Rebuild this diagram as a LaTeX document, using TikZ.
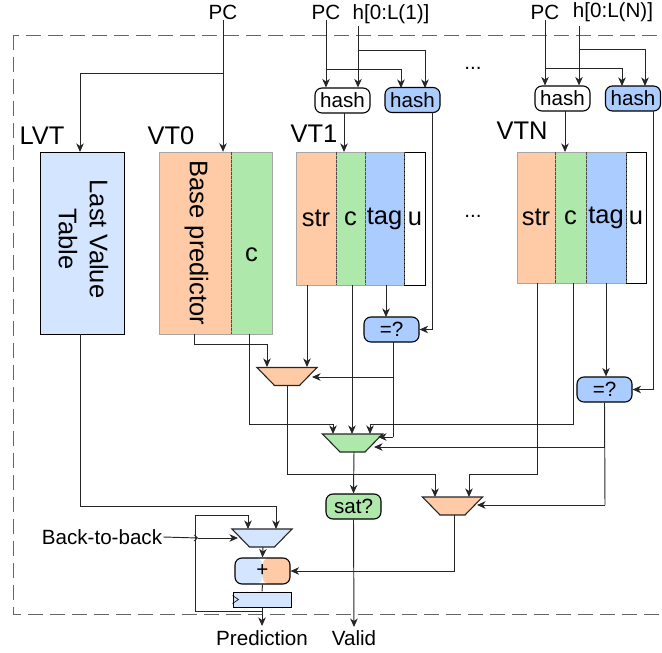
\documentclass[tikz,border=0pt]{standalone}
\usepackage{fontspec}
\setmainfont{Liberation Sans}
\usetikzlibrary{arrows.meta,calc,shapes.geometric}
\definecolor{strorange}{HTML}{FFCBA6}
\definecolor{cgreen}{HTML}{AEE8AA}
\definecolor{tagblue}{HTML}{AACCFF}
\definecolor{lvtblue}{HTML}{D4E5FF}
\tikzstyle{arrow} = [line width=0.95pt,-{Stealth[inset=2.5pt,length=8.5pt,width=7.5pt]},draw=black!85]
\tikzstyle{wire} = [line width=0.95pt,draw=black!85]
\tikzstyle{lbl} = [inner sep=1pt,font=\fontsize{20.6}{24}\selectfont]
\tikzstyle{title} = [inner sep=0pt,font=\fontsize{25.5}{31}\selectfont]
\tikzstyle{column} = [draw=black!35,minimum height=133pt,inner sep=0pt,font=\fontsize{25.5}{29}\selectfont]
\tikzstyle{block} = [draw=black,line width=1.1pt,rounded corners=7pt,minimum width=55pt,minimum height=25pt,inner sep=0pt,font=\fontsize{20.6}{24}\selectfont]
\tikzstyle{muxbox} = [trapezium,shape border rotate=180,trapezium stretches=true,trapezium angle=55,minimum width=60pt,minimum height=18pt,inner sep=1pt,draw=black!85,line width=1.1pt]
\tikzstyle{divider} = [dashed,dash pattern=on 3pt off 1pt,draw=black!70,line width=0.8pt]
\begin{document}
\begin{tikzpicture}[x=1pt,y=-1pt]
\useasboundingbox (0,0) rectangle (662,653);
\begin{scope}
\clip (0,0) rectangle (662,653);
\draw[dashed,dash pattern=on 15pt off 7pt,draw=black!60,line width=0.9pt] (13,35) rectangle (680,614);
\end{scope}
%inputs
\node[lbl] (pca) at (223,12) {PC};
\node[lbl] (pcb) at (326,12) {PC};
\node[lbl] (hone) at (391,14) {h[0:L(1)]};
\node[lbl] (pcc) at (545,12) {PC};
\node[lbl] (hn) at (613,12) {h[0:L(N)]};
\node[lbl] (dotsa) at (473,68) {...};
\node[lbl] (dotsb) at (473,216) {...};
%tables
\node[title] (lvtname) at (42,136) {LVT};
\node[title] (vtzeroname) at (171,136) {VT0};
\node[title] (vtonename) at (314,134) {VT1};
\node[title] (vtnname) at (522,131) {VTN};
\node[column,draw=black,fill=lvtblue,minimum width=84pt,minimum height=182pt] (lvt) at (82,243) {};
\node[title,rotate=-90,align=center] (lvttext) at ($(lvt)+(1.5,-4)$) {Last Value\\Table};
\node[column,fill=strorange,minimum width=72pt,minimum height=182pt] (vtzerobase) at (195,243) {};
\node[title,rotate=-90] (basetext) at ($(vtzerobase)+(1.5,0)$) {Base predictor};
\node[column,fill=cgreen,minimum width=41pt,minimum height=182pt] (vtzeroc) at (251.5,243) {};
\node[title,yshift=-12pt] (ctext) at (vtzeroc) {c};
\node[column,fill=strorange,minimum width=40pt] (vtonestr) at (316,218.5) {str};
\node[column,fill=cgreen,minimum width=29pt] (vtonec) at (350.5,218.5) {c};
\node[column,fill=tagblue,minimum width=39pt] (vtonetag) at (384.5,218.5) {tag};
\node[column,draw=black,fill=white,minimum width=21pt] (vtoneu) at (415,218.5) {u};
\node[column,fill=strorange,minimum width=38pt,minimum height=131pt] (vtnstr) at (536,217.5) {str};
\node[column,fill=cgreen,minimum width=31pt,minimum height=131pt] (vtnc) at (570.5,217.5) {c};
\node[column,fill=tagblue,minimum width=40pt,minimum height=131pt] (vtntag) at (606,217.5) {tag};
\node[column,draw=black,fill=white,minimum width=20pt,minimum height=131pt] (vtnu) at (636,217.5) {u};
\draw[divider] (vtzerobase.north east)--(vtzerobase.south east);
\draw[divider] (vtonestr.north east)--(vtonestr.south east);
\draw[divider] (vtonec.north east)--(vtonec.south east);
\draw[divider] (vtonetag.north east)--(vtonetag.south east);
\draw[divider] (vtnstr.north east)--(vtnstr.south east);
\draw[divider] (vtnc.north east)--(vtnc.south east);
\draw[divider] (vtntag.north east)--(vtntag.south east);
%hash and compare
\node[block] (hashone) at (342.5,100.5) {hash};
\node[block,fill=tagblue] (taghashone) at (412.5,100) {hash};
\node[block] (hashn) at (562.5,98.5) {hash};
\node[block,fill=tagblue] (taghashn) at (633,98.5) {hash};
\node[block,fill=tagblue] (cmpone) at (391.5,329.5) {=?};
\node[block,fill=tagblue] (cmpn) at (604.5,389.5) {=?};
\node[block,fill=cgreen] (sat) at (353.5,506.5) {sat?};
%muxes
\node[muxbox,fill=strorange] (muxa) at (287,376.5) {};
\node[muxbox,fill=cgreen] (muxb) at (352.5,443) {};
\node[muxbox,fill=strorange] (muxc) at (452.5,506) {};
\node[muxbox,fill=lvtblue] (muxd) at (262,538) {};
%adder and register
\node[block,minimum height=26pt,path picture={
\fill[lvtblue] (path picture bounding box.north west) rectangle (path picture bounding box.south);
\fill[strorange] (path picture bounding box.north) rectangle (path picture bounding box.south east);
}] (adder) at (262.5,571) {+};
\node[draw=black,line width=1pt,fill=lvtblue,minimum width=58pt,minimum height=15pt,inner sep=0pt] (reg) at (262,599.5) {};
\draw[line width=0.6pt] ($(reg.west)+(0,-4)$)--($(reg.west)+(6,0)$)--($(reg.west)+(0,4)$);
%outputs
\node[lbl] (pred) at (262,638) {Prediction};
\node[lbl] (valid) at (354,638) {Valid};
\node[lbl] (btb) at (102,537) {Back-to-back};
%junctions and ports
\coordinate (pcasplit) at (223,73);
\coordinate (lvtin) at (80,152);
\coordinate (pcbsplit) at (326,69);
\coordinate (honetap) at (358,26);
\coordinate (honesplit) at (358,50);
\coordinate (tagoneina) at (401,88);
\coordinate (tagoneinb) at (425,88);
\coordinate (pccsplit) at (546,68);
\coordinate (hntap) at (579,26);
\coordinate (hnsplit) at (579,49);
\coordinate (tagnina) at (622,86);
\coordinate (tagninb) at (645,86);
\coordinate (hashoneout) at (344,113);
\coordinate (hashonetable) at (344,152);
\coordinate (hashnout) at (565,111);
\coordinate (hashntable) at (565,152);
\coordinate (taghashoneout) at (432,112);
\coordinate (taghashnout) at (653,111);
\coordinate (tagoneout) at (386,285);
\coordinate (cmponein) at (386,317);
\coordinate (baseout) at (194,334);
\coordinate (baseturn) at (194,344);
\coordinate (muxaina) at (267,367);
\coordinate (muxainb) at (307,367);
\coordinate (muxainc) at (312,377);
\coordinate (muxaout) at (287,386);
\coordinate (vtzerocout) at (249,334);
\coordinate (vtzerocturn) at (249,424);
\coordinate (muxbina) at (333,434);
\coordinate (muxbinb) at (352,434);
\coordinate (muxbinc) at (370,434);
\coordinate (muxbind) at (378,437);
\coordinate (muxbine) at (374,447);
\coordinate (muxbout) at (354,452);
\coordinate (vtonestrout) at (307,285);
\coordinate (vtonecout) at (352,285);
\coordinate (vtncout) at (573,283);
\coordinate (vtncturn) at (573,424);
\coordinate (vtnstrout) at (537,283);
\coordinate (vtnstrturn) at (537,474);
\coordinate (cmponeout) at (393,342);
\coordinate (cmponeturn) at (393,437);
\coordinate (cmponesplit) at (393,377);
\coordinate (cmpnsplit) at (605,447);
\coordinate (cmpnturn) at (605,505);
\coordinate (muxaturn) at (287,474);
\coordinate (muxcina) at (435,497);
\coordinate (muxcinb) at (469,497);
\coordinate (muxcinc) at (477,505);
\coordinate (muxcout) at (454,515);
\coordinate (validin) at (354,627);
\coordinate (lvtout) at (80,334);
\coordinate (lvtturn) at (80,506);
\coordinate (muxdina) at (248,529);
\coordinate (muxdinb) at (276,529);
\coordinate (muxdinc) at (238,538);
\coordinate (muxdout) at (263,547);
\coordinate (fbksplit) at (262,611);
\coordinate (fbkturn) at (195,515);
\coordinate (clk) at (198,538);
\coordinate (predin) at (262,626);
%top wiring
\draw[arrow] (pca.south)--(pca.south |- vtzerobase.north);
\draw[arrow] (pcasplit)-|(lvtin);
\draw[arrow] (pcb.south)--(pcb.south |- hashone.north);
\draw[arrow] (pcbsplit)-|(tagoneina);
\draw[arrow] (honetap)--(honetap |- hashone.north);
\draw[arrow] (honesplit)-|(tagoneinb);
\draw[arrow] (pcc.south)--(pcc.south |- hashn.north);
\draw[arrow] (pccsplit)-|(tagnina);
\draw[arrow] (hntap)--(hntap |- hashn.north);
\draw[arrow] (hnsplit)-|(tagninb);
\draw[arrow] (hashoneout)--(hashonetable);
\draw[arrow] (hashnout)--(hashntable);
\draw[arrow] (taghashoneout)|-(cmpone.east);
\draw[arrow] (taghashnout)|-(cmpn.east);
\draw[arrow] (tagoneout)--(cmponein);
\draw[arrow] (vtntag.south)--(vtntag.south |- cmpn.north);
%mux wiring
\draw[arrow] (baseout)--(baseturn)-|(muxaina);
\draw[arrow] (vtzerocout)--(vtzerocturn)-|(muxbina);
\draw[arrow] (vtonestrout)--(muxainb);
\draw[arrow] (vtonecout)--(muxbinb);
\draw[arrow] (vtncout)--(vtncturn)-|(muxbinc);
\draw[wire] (cmponeout)--(cmponeturn);
\draw[arrow] (cmponesplit)--(muxainc);
\draw[arrow] (cmponeturn)--(muxbind);
\draw[wire] (cmpn.south)--(cmpnturn);
\draw[arrow] (cmpnsplit)--(muxbine);
\draw[arrow] (cmpnturn)--(muxcinc);
\draw[arrow] (muxaout)--(muxaturn)-|(muxcina);
\draw[arrow] (vtnstrout)--(vtnstrturn)-|(muxcinb);
\draw[arrow] (muxbout)--(sat.north);
\draw[arrow] (sat.south)--(validin);
%prediction path
\draw[arrow] (lvtout)--(lvtturn)-|(muxdinb);
\draw[arrow] (fbksplit)-|(fbkturn)-|(muxdina);
\draw[wire,-{Straight Barb[length=3pt,width=6pt]}] (btb.east)--(clk);
\draw[arrow] (clk)--(muxdinc);
\draw[arrow] (muxdout)--(adder.north);
\draw[arrow] (muxcout)|-(adder.east);
\draw[wire] (adder.south)--(reg.north);
\draw[arrow] (reg.south)--(predin);
\end{tikzpicture}
\end{document}
